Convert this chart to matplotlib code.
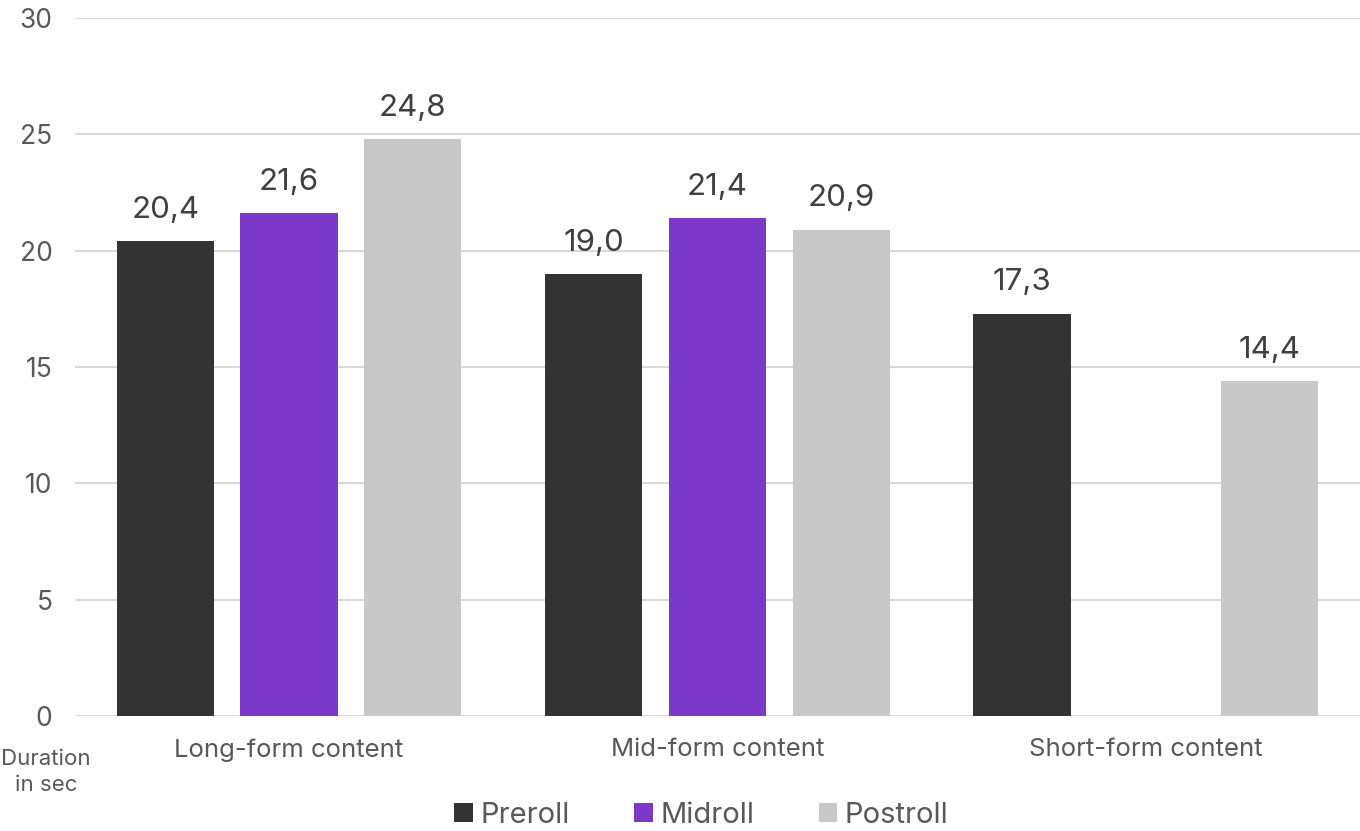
import matplotlib.pyplot as plt
import numpy as np

categories = ["Long-form content", "Mid-form content", "Short-form content"]
series = ["Preroll", "Midroll", "Postroll"]
preroll = [20.4, 19.0, 17.3]
midroll = [21.6, 21.4, np.nan]
postroll = [24.8, 20.9, 14.4]
colors = ["#333333", "#7B38C9", "#C8C8C8"]

plt.rcParams["font.family"] = ["Inter", "DejaVu Sans"]

fig = plt.figure(figsize=(13.6, 8.31), dpi=100)
ax = fig.add_axes([0.055, 0.1384, 0.945, 0.8399])

x = np.arange(len(categories))
width = 0.227
offset = 0.289
for i, (name, vals) in enumerate(zip(series, [preroll, midroll, postroll])):
    pos = x + (i - 1) * offset
    ax.bar(pos, vals, width, color=colors[i], label=name, zorder=3)
    for xp, v in zip(pos, vals):
        if np.isnan(v):
            continue
        ax.text(xp, v + 0.75, f"{v:.1f}".replace(".", ","), ha="center",
                va="bottom", fontsize=22.5, color="#404040")

ax.set_xlim(-0.5, 2.5)
ax.set_ylim(0, 30)
ax.set_yticks(range(0, 31, 5))
ax.grid(axis="y", color="#D9D9D9", linewidth=1.5, zorder=0)
ax.tick_params(axis="y", length=0, pad=16, labelsize=19, labelcolor="#595959")
ax.set_xticks(x)
ax.set_xticklabels(categories)
ax.tick_params(axis="x", length=0, pad=16, labelsize=18.5, labelcolor="#595959")
for s in ax.spines.values():
    s.set_visible(False)

fig.text(0.034, 0.071, "Duration\nin sec", ha="center", va="center",
         fontsize=16, color="#595959", linespacing=1.4)

ax.legend(loc="center", bbox_to_anchor=(0.5 + (701 - 717) / 1285, -0.142),
          ncol=3, frameon=False, fontsize=21, handlelength=0.65,
          handleheight=0.65, handletextpad=0.25, columnspacing=2.2,
          labelcolor="#595959", borderpad=0.2)

fig.savefig("out.png", dpi=100)
